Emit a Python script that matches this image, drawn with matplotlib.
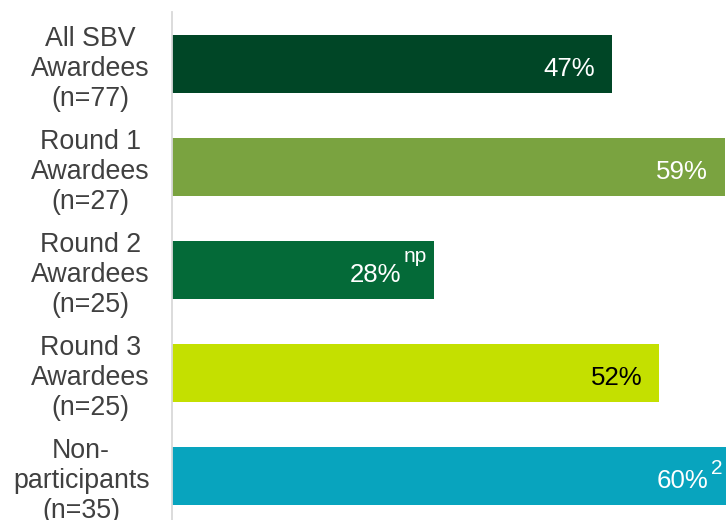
import matplotlib
matplotlib.use("Agg")
import matplotlib.pyplot as plt

plt.rcParams['font.family'] = ['Liberation Sans', 'DejaVu Sans']

categories = [
    "All SBV\nAwardees\n(n=77)",
    "Round 1\nAwardees\n(n=27)",
    "Round 2\nAwardees\n(n=25)",
    "Round 3\nAwardees\n(n=25)",
    "Non-\nparticipants\n(n=35)",
]
values = [47, 59, 28, 52, 60]
labels = ["47%", "59%", "28%", "52%", "60%"]
superscripts = ["", "", "np", "", "2"]
colors = ["#004626", "#7AA340", "#046A38", "#C4E000", "#08A4BE"]
label_colors = ["white", "white", "white", "black", "white"]

# superscript placement in pixels: inset from bar end, rise above main baseline
sup_inset = [0, 0, 7.5, 0, 11.5]
sup_rise = [0, 0, 19.5, 0, 14]

W, H, DPI = 726, 520, 100
fig = plt.figure(figsize=(W / DPI, H / DPI), dpi=DPI)
ax = fig.add_axes([172 / W, 0, 1 - 172 / W, 1 - 12 / H])

pos = list(range(len(values)))
ax.barh(pos, values, height=0.57, color=colors, zorder=2)

ax.set_xlim(0, 554 / 9.37)
ax.set_ylim(4.427, -0.505)

ax.set_xticks([])
ax.set_yticks(pos, labels=categories)
for t in ax.get_yticklabels():
    t.set_multialignment("center")
    t.set_fontsize(19.3)
    t.set_color("#404040")
    t.set_linespacing(1.21)
ax.tick_params(axis="y", length=0, pad=16.2)

for s in ("top", "right", "bottom"):
    ax.spines[s].set_visible(False)
ax.spines["left"].set_color("#D9D9D9")
ax.spines["left"].set_linewidth(1.3)
ax.spines["left"].set_zorder(3)

px = 72 / DPI  # points per pixel
base_drop = 11.5  # main label baseline below bar centre, pixels
fig.canvas.draw()
renderer = fig.canvas.get_renderer()

for i, (v, lab, sup, col) in enumerate(zip(values, labels, superscripts, label_colors)):
    if sup:
        st = ax.annotate(sup, xy=(v, i),
                         xytext=(-sup_inset[i] * px, (sup_rise[i] - base_drop) * px),
                         textcoords="offset points", ha="right", va="baseline",
                         fontsize=15, color=col, zorder=4,
                         annotation_clip=False)
        bb = st.get_window_extent(renderer)
        dx = -(sup_inset[i] + bb.width + 2.5)
    else:
        dx = -17
    ax.annotate(lab, xy=(v, i), xytext=(dx * px, -base_drop * px),
                textcoords="offset points", ha="right", va="baseline",
                fontsize=18.6, color=col, zorder=4, annotation_clip=False)

fig.savefig("out.png", dpi=DPI)
